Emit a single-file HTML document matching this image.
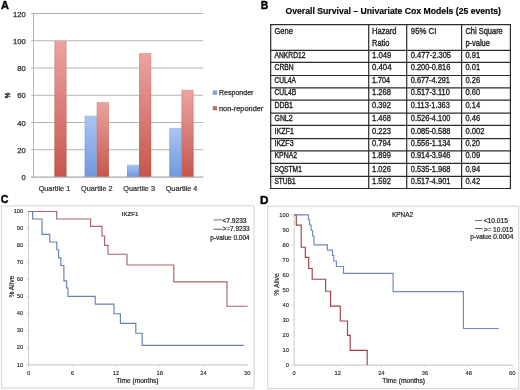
<!DOCTYPE html>
<html><head><meta charset="utf-8"><style>
html,body{margin:0;padding:0;background:#fff;}
body{width:520px;height:390px;overflow:hidden;}
svg{display:block;font-family:"Liberation Sans",sans-serif;will-change:transform;}
</style></head><body>
<svg width="520" height="390" viewBox="0 0 520 390">
<defs>
<linearGradient id="gr" x1="0" y1="0" x2="0" y2="1"><stop offset="0" stop-color="#eca4a0"/><stop offset="1" stop-color="#c6564c"/></linearGradient>
<linearGradient id="gb" x1="0" y1="0" x2="0" y2="1"><stop offset="0" stop-color="#a9c5f3"/><stop offset="1" stop-color="#6e99dd"/></linearGradient>
<linearGradient id="ge" x1="0" y1="0" x2="1" y2="0"><stop offset="0" stop-color="#000" stop-opacity="0.10"/><stop offset="0.12" stop-color="#000" stop-opacity="0"/><stop offset="0.88" stop-color="#000" stop-opacity="0"/><stop offset="1" stop-color="#000" stop-opacity="0.10"/></linearGradient>
</defs>
<rect width="520" height="390" fill="#fff"/>
<text transform="translate(1.04,9.00) scale(0.9713,1)" font-size="11.34" font-weight="bold" fill="#000" stroke="#000" stroke-width="0.35">A</text>
<line x1="31.2" y1="149.75" x2="203.3" y2="149.75" stroke="#b4b4b4" stroke-width="1"/>
<line x1="31.2" y1="122.5" x2="203.3" y2="122.5" stroke="#b4b4b4" stroke-width="1"/>
<line x1="31.2" y1="95.25" x2="203.3" y2="95.25" stroke="#b4b4b4" stroke-width="1"/>
<line x1="31.2" y1="68.0" x2="203.3" y2="68.0" stroke="#b4b4b4" stroke-width="1"/>
<line x1="31.2" y1="40.75" x2="203.3" y2="40.75" stroke="#b4b4b4" stroke-width="1"/>
<line x1="31.2" y1="13.5" x2="203.3" y2="13.5" stroke="#b4b4b4" stroke-width="1"/>
<text x="21.47" y="180.00" font-size="7.6" textLength="4.23" lengthAdjust="spacingAndGlyphs" fill="#2a2a2a" stroke="#2a2a2a" stroke-width="0.25">0</text>
<text x="17.25" y="152.75" font-size="7.6" textLength="8.45" lengthAdjust="spacingAndGlyphs" fill="#2a2a2a" stroke="#2a2a2a" stroke-width="0.25">20</text>
<text x="17.25" y="125.50" font-size="7.6" textLength="8.45" lengthAdjust="spacingAndGlyphs" fill="#2a2a2a" stroke="#2a2a2a" stroke-width="0.25">40</text>
<text x="17.25" y="98.25" font-size="7.6" textLength="8.45" lengthAdjust="spacingAndGlyphs" fill="#2a2a2a" stroke="#2a2a2a" stroke-width="0.25">60</text>
<text x="17.25" y="71.00" font-size="7.6" textLength="8.45" lengthAdjust="spacingAndGlyphs" fill="#2a2a2a" stroke="#2a2a2a" stroke-width="0.25">80</text>
<text x="13.02" y="43.75" font-size="7.6" textLength="12.68" lengthAdjust="spacingAndGlyphs" fill="#2a2a2a" stroke="#2a2a2a" stroke-width="0.25">100</text>
<text x="13.02" y="16.50" font-size="7.6" textLength="12.68" lengthAdjust="spacingAndGlyphs" fill="#2a2a2a" stroke="#2a2a2a" stroke-width="0.25">120</text>
<rect x="54.40" y="40.75" width="12.1" height="136.25" fill="url(#gr)"/>
<rect x="54.40" y="40.75" width="12.1" height="136.25" fill="url(#ge)"/>
<rect x="84.65" y="115.69" width="12.1" height="61.31" fill="url(#gb)"/>
<rect x="84.65" y="115.69" width="12.1" height="61.31" fill="url(#ge)"/>
<rect x="96.75" y="102.06" width="12.1" height="74.94" fill="url(#gr)"/>
<rect x="96.75" y="102.06" width="12.1" height="74.94" fill="url(#ge)"/>
<rect x="127.00" y="164.74" width="12.1" height="12.26" fill="url(#gb)"/>
<rect x="127.00" y="164.74" width="12.1" height="12.26" fill="url(#ge)"/>
<rect x="139.10" y="53.01" width="12.1" height="123.99" fill="url(#gr)"/>
<rect x="139.10" y="53.01" width="12.1" height="123.99" fill="url(#ge)"/>
<rect x="169.35" y="127.95" width="12.1" height="49.05" fill="url(#gb)"/>
<rect x="169.35" y="127.95" width="12.1" height="49.05" fill="url(#ge)"/>
<rect x="181.45" y="89.80" width="12.1" height="87.20" fill="url(#gr)"/>
<rect x="181.45" y="89.80" width="12.1" height="87.20" fill="url(#ge)"/>
<line x1="33.5" y1="13.5" x2="33.5" y2="177.5" stroke="#b4b4b4" stroke-width="1"/>
<line x1="31.2" y1="177.1" x2="203.3" y2="177.1" stroke="#a8a8a8" stroke-width="1.1"/>
<text x="38.65" y="190.70" font-size="7.5" textLength="31.60" lengthAdjust="spacingAndGlyphs" fill="#2a2a2a" stroke="#2a2a2a" stroke-width="0.2">Quartile 1</text>
<text x="81.00" y="190.70" font-size="7.5" textLength="31.60" lengthAdjust="spacingAndGlyphs" fill="#2a2a2a" stroke="#2a2a2a" stroke-width="0.2">Quartile 2</text>
<text x="123.35" y="190.70" font-size="7.5" textLength="31.60" lengthAdjust="spacingAndGlyphs" fill="#2a2a2a" stroke="#2a2a2a" stroke-width="0.2">Quartile 3</text>
<text x="165.70" y="190.70" font-size="7.5" textLength="31.60" lengthAdjust="spacingAndGlyphs" fill="#2a2a2a" stroke="#2a2a2a" stroke-width="0.2">Quartile 4</text>
<text transform="translate(9.9,95.4) rotate(-90) scale(0.78,1)" font-size="8.0" text-anchor="middle" fill="#222" stroke="#222" stroke-width="0.4">%</text>
<rect x="212.7" y="90.4" width="4.3" height="4.4" fill="#8a9fd0"/>
<rect x="212.7" y="106.1" width="4.3" height="4.2" fill="#bf7373"/>
<text x="219.00" y="95.40" font-size="7.3" textLength="34.40" lengthAdjust="spacingAndGlyphs" fill="#2a2a2a" stroke="#2a2a2a" stroke-width="0.25">Responder</text>
<text x="219.00" y="111.20" font-size="7.3" textLength="44.30" lengthAdjust="spacingAndGlyphs" fill="#2a2a2a" stroke="#2a2a2a" stroke-width="0.25">non-reponder</text>
<text transform="translate(260.71,9.20) scale(0.9008,1)" font-size="11.63" font-weight="bold" fill="#000" stroke="#000" stroke-width="0.4">B</text>
<text x="285.50" y="13.60" font-size="9" font-weight="bold" textLength="215.50" lengthAdjust="spacingAndGlyphs" fill="#000" stroke="#000" stroke-width="0.15">Overall Survival – Univariate Cox Models (25 events)</text>
<line x1="270.09999999999997" y1="24.7" x2="511.0" y2="24.7" stroke="#2c2c2c" stroke-width="1.2"/>
<line x1="270.09999999999997" y1="50.35" x2="511.0" y2="50.35" stroke="#2c2c2c" stroke-width="1.2"/>
<line x1="270.09999999999997" y1="62.4" x2="511.0" y2="62.4" stroke="#2c2c2c" stroke-width="1.2"/>
<line x1="270.09999999999997" y1="75.5" x2="511.0" y2="75.5" stroke="#2c2c2c" stroke-width="1.2"/>
<line x1="270.09999999999997" y1="87.8" x2="511.0" y2="87.8" stroke="#2c2c2c" stroke-width="1.2"/>
<line x1="270.09999999999997" y1="100.2" x2="511.0" y2="100.2" stroke="#2c2c2c" stroke-width="1.2"/>
<line x1="270.09999999999997" y1="113.2" x2="511.0" y2="113.2" stroke="#2c2c2c" stroke-width="1.2"/>
<line x1="270.09999999999997" y1="125.4" x2="511.0" y2="125.4" stroke="#2c2c2c" stroke-width="1.2"/>
<line x1="270.09999999999997" y1="138.6" x2="511.0" y2="138.6" stroke="#2c2c2c" stroke-width="1.2"/>
<line x1="270.09999999999997" y1="150.9" x2="511.0" y2="150.9" stroke="#2c2c2c" stroke-width="1.2"/>
<line x1="270.09999999999997" y1="163.3" x2="511.0" y2="163.3" stroke="#2c2c2c" stroke-width="1.2"/>
<line x1="270.09999999999997" y1="176.3" x2="511.0" y2="176.3" stroke="#2c2c2c" stroke-width="1.2"/>
<line x1="270.09999999999997" y1="188.5" x2="511.0" y2="188.5" stroke="#2c2c2c" stroke-width="1.2"/>
<line x1="270.7" y1="24.7" x2="270.7" y2="188.5" stroke="#2c2c2c" stroke-width="1.2"/>
<line x1="368.7" y1="24.7" x2="368.7" y2="188.5" stroke="#2c2c2c" stroke-width="1.2"/>
<line x1="406.7" y1="24.7" x2="406.7" y2="188.5" stroke="#2c2c2c" stroke-width="1.2"/>
<line x1="461.6" y1="24.7" x2="461.6" y2="188.5" stroke="#2c2c2c" stroke-width="1.2"/>
<line x1="510.4" y1="24.7" x2="510.4" y2="188.5" stroke="#2c2c2c" stroke-width="1.2"/>
<text transform="translate(274.50,33.70) scale(0.836,1)" font-size="9" fill="#222" stroke="#222" stroke-width="0.359">Gene</text>
<text transform="translate(372.00,33.70) scale(0.841,1)" font-size="9" fill="#222" stroke="#222" stroke-width="0.357">Hazard</text>
<text transform="translate(372.00,46.30) scale(0.829,1)" font-size="9" fill="#222" stroke="#222" stroke-width="0.362">Ratio</text>
<text transform="translate(410.80,33.70) scale(0.867,1)" font-size="9" fill="#222" stroke="#222" stroke-width="0.346">95% CI</text>
<text transform="translate(465.40,33.70) scale(0.831,1)" font-size="9" fill="#222" stroke="#222" stroke-width="0.361">Chi Square</text>
<text transform="translate(465.40,46.30) scale(0.830,1)" font-size="9" fill="#222" stroke="#222" stroke-width="0.361">p-value</text>
<text transform="translate(274.50,57.90) scale(0.748,1)" font-size="9" fill="#222" stroke="#222" stroke-width="0.401">ANKRD12</text>
<text transform="translate(372.00,57.90) scale(0.855,1)" font-size="9" fill="#222" stroke="#222" stroke-width="0.351">1.049</text>
<text transform="translate(410.80,57.90) scale(0.839,1)" font-size="9" fill="#222" stroke="#222" stroke-width="0.358">0.477-2.305</text>
<text transform="translate(465.40,57.90) scale(0.840,1)" font-size="9" fill="#222" stroke="#222" stroke-width="0.357">0.91</text>
<text transform="translate(274.50,70.40) scale(0.753,1)" font-size="9" fill="#222" stroke="#222" stroke-width="0.398">CRBN</text>
<text transform="translate(372.00,70.40) scale(0.867,1)" font-size="9" fill="#222" stroke="#222" stroke-width="0.346">0.404</text>
<text transform="translate(410.80,70.40) scale(0.824,1)" font-size="9" fill="#222" stroke="#222" stroke-width="0.364">0.200-0.816</text>
<text transform="translate(465.40,70.40) scale(0.840,1)" font-size="9" fill="#222" stroke="#222" stroke-width="0.357">0.01</text>
<text transform="translate(274.50,83.00) scale(0.736,1)" font-size="9" fill="#222" stroke="#222" stroke-width="0.408">CUL4A</text>
<text transform="translate(372.00,83.00) scale(0.800,1)" font-size="9" fill="#222" stroke="#222" stroke-width="0.375">1.704</text>
<text transform="translate(410.80,83.00) scale(0.815,1)" font-size="9" fill="#222" stroke="#222" stroke-width="0.368">0.677-4.291</text>
<text transform="translate(465.40,83.00) scale(0.840,1)" font-size="9" fill="#222" stroke="#222" stroke-width="0.357">0.26</text>
<text transform="translate(274.50,95.40) scale(0.747,1)" font-size="9" fill="#222" stroke="#222" stroke-width="0.402">CUL4B</text>
<text transform="translate(372.00,95.40) scale(0.840,1)" font-size="9" fill="#222" stroke="#222" stroke-width="0.357">1.268</text>
<text transform="translate(410.80,95.40) scale(0.825,1)" font-size="9" fill="#222" stroke="#222" stroke-width="0.364">0.517-3.110</text>
<text transform="translate(465.40,95.40) scale(0.840,1)" font-size="9" fill="#222" stroke="#222" stroke-width="0.357">0.60</text>
<text transform="translate(274.50,108.20) scale(0.771,1)" font-size="9" fill="#222" stroke="#222" stroke-width="0.389">DDB1</text>
<text transform="translate(372.00,108.20) scale(0.840,1)" font-size="9" fill="#222" stroke="#222" stroke-width="0.357">0.392</text>
<text transform="translate(410.80,108.20) scale(0.825,1)" font-size="9" fill="#222" stroke="#222" stroke-width="0.364">0.113-1.363</text>
<text transform="translate(465.40,108.20) scale(0.840,1)" font-size="9" fill="#222" stroke="#222" stroke-width="0.357">0.14</text>
<text transform="translate(274.50,120.80) scale(0.770,1)" font-size="9" fill="#222" stroke="#222" stroke-width="0.390">GNL2</text>
<text transform="translate(372.00,120.80) scale(0.840,1)" font-size="9" fill="#222" stroke="#222" stroke-width="0.357">1.468</text>
<text transform="translate(410.80,120.80) scale(0.825,1)" font-size="9" fill="#222" stroke="#222" stroke-width="0.364">0.526-4.100</text>
<text transform="translate(465.40,120.80) scale(0.840,1)" font-size="9" fill="#222" stroke="#222" stroke-width="0.357">0.46</text>
<text transform="translate(274.50,134.40) scale(0.790,1)" font-size="9" fill="#222" stroke="#222" stroke-width="0.380">IKZF1</text>
<text transform="translate(372.00,134.40) scale(0.840,1)" font-size="9" fill="#222" stroke="#222" stroke-width="0.357">0.223</text>
<text transform="translate(410.80,134.40) scale(0.825,1)" font-size="9" fill="#222" stroke="#222" stroke-width="0.364">0.085-0.588</text>
<text transform="translate(465.40,134.40) scale(0.852,1)" font-size="9" fill="#222" stroke="#222" stroke-width="0.352">0.002</text>
<text transform="translate(274.50,146.00) scale(0.777,1)" font-size="9" fill="#222" stroke="#222" stroke-width="0.386">IKZF3</text>
<text transform="translate(372.00,146.00) scale(0.840,1)" font-size="9" fill="#222" stroke="#222" stroke-width="0.357">0.794</text>
<text transform="translate(410.80,146.00) scale(0.825,1)" font-size="9" fill="#222" stroke="#222" stroke-width="0.364">0.556-1.134</text>
<text transform="translate(465.40,146.00) scale(0.832,1)" font-size="9" fill="#222" stroke="#222" stroke-width="0.361">0.20</text>
<text transform="translate(274.50,158.30) scale(0.766,1)" font-size="9" fill="#222" stroke="#222" stroke-width="0.392">KPNA2</text>
<text transform="translate(372.00,158.30) scale(0.840,1)" font-size="9" fill="#222" stroke="#222" stroke-width="0.357">1.899</text>
<text transform="translate(410.80,158.30) scale(0.825,1)" font-size="9" fill="#222" stroke="#222" stroke-width="0.364">0.914-3.946</text>
<text transform="translate(465.40,158.30) scale(0.840,1)" font-size="9" fill="#222" stroke="#222" stroke-width="0.357">0.09</text>
<text transform="translate(274.50,171.50) scale(0.741,1)" font-size="9" fill="#222" stroke="#222" stroke-width="0.405">SQSTM1</text>
<text transform="translate(372.00,171.50) scale(0.840,1)" font-size="9" fill="#222" stroke="#222" stroke-width="0.357">1.026</text>
<text transform="translate(410.80,171.50) scale(0.825,1)" font-size="9" fill="#222" stroke="#222" stroke-width="0.364">0.535-1.968</text>
<text transform="translate(465.40,171.50) scale(0.840,1)" font-size="9" fill="#222" stroke="#222" stroke-width="0.357">0.94</text>
<text transform="translate(274.50,183.70) scale(0.728,1)" font-size="9" fill="#222" stroke="#222" stroke-width="0.412">STUB1</text>
<text transform="translate(372.00,183.70) scale(0.840,1)" font-size="9" fill="#222" stroke="#222" stroke-width="0.357">1.592</text>
<text transform="translate(410.80,183.70) scale(0.825,1)" font-size="9" fill="#222" stroke="#222" stroke-width="0.364">0.517-4.901</text>
<text transform="translate(465.40,183.70) scale(0.840,1)" font-size="9" fill="#222" stroke="#222" stroke-width="0.357">0.42</text>
<rect x="1.5" y="205.8" width="252.5" height="182.2" fill="none" stroke="#dadada" stroke-width="1.2"/>
<text transform="translate(0.86,203.19) scale(0.9472,1)" font-size="11.30" font-weight="bold" fill="#000" stroke="#000" stroke-width="0.4">C</text>
<line x1="28.5" y1="211.5" x2="28.5" y2="364.8" stroke="#cbcbcb" stroke-width="1"/>
<line x1="28.5" y1="364.8" x2="247.2" y2="364.8" stroke="#cbcbcb" stroke-width="1.3"/>
<line x1="26.5" y1="364.8" x2="28.5" y2="364.8" stroke="#cbcbcb" stroke-width="0.8"/>
<text x="16.87" y="366.50" font-size="5.9" textLength="6.43" lengthAdjust="spacingAndGlyphs" fill="#222" stroke="#222" stroke-width="0.12">10</text>
<line x1="26.5" y1="347.77" x2="28.5" y2="347.77" stroke="#cbcbcb" stroke-width="0.8"/>
<text x="16.87" y="349.47" font-size="5.9" textLength="6.43" lengthAdjust="spacingAndGlyphs" fill="#222" stroke="#222" stroke-width="0.12">20</text>
<line x1="26.5" y1="330.73" x2="28.5" y2="330.73" stroke="#cbcbcb" stroke-width="0.8"/>
<text x="16.87" y="332.43" font-size="5.9" textLength="6.43" lengthAdjust="spacingAndGlyphs" fill="#222" stroke="#222" stroke-width="0.12">30</text>
<line x1="26.5" y1="313.7" x2="28.5" y2="313.7" stroke="#cbcbcb" stroke-width="0.8"/>
<text x="16.87" y="315.40" font-size="5.9" textLength="6.43" lengthAdjust="spacingAndGlyphs" fill="#222" stroke="#222" stroke-width="0.12">40</text>
<line x1="26.5" y1="296.67" x2="28.5" y2="296.67" stroke="#cbcbcb" stroke-width="0.8"/>
<text x="16.87" y="298.37" font-size="5.9" textLength="6.43" lengthAdjust="spacingAndGlyphs" fill="#222" stroke="#222" stroke-width="0.12">50</text>
<line x1="26.5" y1="279.63" x2="28.5" y2="279.63" stroke="#cbcbcb" stroke-width="0.8"/>
<text x="16.87" y="281.33" font-size="5.9" textLength="6.43" lengthAdjust="spacingAndGlyphs" fill="#222" stroke="#222" stroke-width="0.12">60</text>
<line x1="26.5" y1="262.6" x2="28.5" y2="262.6" stroke="#cbcbcb" stroke-width="0.8"/>
<text x="16.87" y="264.30" font-size="5.9" textLength="6.43" lengthAdjust="spacingAndGlyphs" fill="#222" stroke="#222" stroke-width="0.12">70</text>
<line x1="26.5" y1="245.57" x2="28.5" y2="245.57" stroke="#cbcbcb" stroke-width="0.8"/>
<text x="16.87" y="247.27" font-size="5.9" textLength="6.43" lengthAdjust="spacingAndGlyphs" fill="#222" stroke="#222" stroke-width="0.12">80</text>
<line x1="26.5" y1="228.53" x2="28.5" y2="228.53" stroke="#cbcbcb" stroke-width="0.8"/>
<text x="16.87" y="230.23" font-size="5.9" textLength="6.43" lengthAdjust="spacingAndGlyphs" fill="#222" stroke="#222" stroke-width="0.12">90</text>
<line x1="26.5" y1="211.5" x2="28.5" y2="211.5" stroke="#cbcbcb" stroke-width="0.8"/>
<text x="13.65" y="213.20" font-size="5.9" textLength="9.65" lengthAdjust="spacingAndGlyphs" fill="#222" stroke="#222" stroke-width="0.12">100</text>
<line x1="28.5" y1="364.8" x2="28.5" y2="366.8" stroke="#cbcbcb" stroke-width="0.8"/>
<text x="26.89" y="374.70" font-size="5.9" textLength="3.22" lengthAdjust="spacingAndGlyphs" fill="#222" stroke="#222" stroke-width="0.12">0</text>
<line x1="72.24" y1="364.8" x2="72.24" y2="366.8" stroke="#cbcbcb" stroke-width="0.8"/>
<text x="70.63" y="374.70" font-size="5.9" textLength="3.22" lengthAdjust="spacingAndGlyphs" fill="#222" stroke="#222" stroke-width="0.12">6</text>
<line x1="115.98" y1="364.8" x2="115.98" y2="366.8" stroke="#cbcbcb" stroke-width="0.8"/>
<text x="112.76" y="374.70" font-size="5.9" textLength="6.43" lengthAdjust="spacingAndGlyphs" fill="#222" stroke="#222" stroke-width="0.12">12</text>
<line x1="159.72" y1="364.8" x2="159.72" y2="366.8" stroke="#cbcbcb" stroke-width="0.8"/>
<text x="156.50" y="374.70" font-size="5.9" textLength="6.43" lengthAdjust="spacingAndGlyphs" fill="#222" stroke="#222" stroke-width="0.12">18</text>
<line x1="203.46" y1="364.8" x2="203.46" y2="366.8" stroke="#cbcbcb" stroke-width="0.8"/>
<text x="200.24" y="374.70" font-size="5.9" textLength="6.43" lengthAdjust="spacingAndGlyphs" fill="#222" stroke="#222" stroke-width="0.12">24</text>
<line x1="247.2" y1="364.8" x2="247.2" y2="366.8" stroke="#cbcbcb" stroke-width="0.8"/>
<text x="243.98" y="374.70" font-size="5.9" textLength="6.43" lengthAdjust="spacingAndGlyphs" fill="#222" stroke="#222" stroke-width="0.12">30</text>
<text x="116.20" y="382.60" font-size="6.6" textLength="42.40" lengthAdjust="spacingAndGlyphs" fill="#222" stroke="#222" stroke-width="0.2">Time (months)</text>
<text transform="translate(13.8,286.7) rotate(-90)" font-size="6.6" text-anchor="middle" fill="#222" stroke="#222" stroke-width="0.15" textLength="21.8" lengthAdjust="spacingAndGlyphs">% Alive</text>
<text x="121.75" y="216.00" font-size="6.1" textLength="16.50" lengthAdjust="spacingAndGlyphs" fill="#222" stroke="#222" stroke-width="0.2">IKZF1</text>
<path d="M28.50,211.50 L56.70,211.50 L56.70,219.00 L90.60,219.00 L90.60,226.30 L102.00,226.30 L102.00,236.00 L104.60,236.00 L104.60,245.40 L108.00,245.40 L108.00,254.20 L127.00,254.20 L127.00,265.00 L173.80,265.00 L173.80,281.80 L227.00,281.80 L227.00,306.20 L247.60,306.20" fill="none" stroke="#a8646c" stroke-width="1.15" stroke-linejoin="miter"/>
<path d="M28.50,211.50 L32.60,211.50 L32.60,219.00 L42.00,219.00 L42.00,234.30 L49.70,234.30 L49.70,242.00 L56.80,242.00 L56.80,249.70 L58.60,249.70 L58.60,257.90 L60.80,257.90 L60.80,265.50 L63.90,265.50 L63.90,280.80 L66.60,280.80 L66.60,288.00 L68.00,288.00 L68.00,296.40 L95.20,296.40 L95.20,304.10 L114.00,304.10 L114.00,313.70 L120.40,313.70 L120.40,323.30 L135.80,323.30 L135.80,333.20 L142.20,333.20 L142.20,345.30 L243.70,345.30" fill="none" stroke="#6680b4" stroke-width="1.15" stroke-linejoin="miter"/>
<line x1="213.5" y1="219.9" x2="222.3" y2="219.9" stroke="#6a7088" stroke-width="1.0"/>
<line x1="213.5" y1="229.3" x2="222.3" y2="229.3" stroke="#7a5058" stroke-width="1.0"/>
<text x="222.40" y="222.50" font-size="6.4" textLength="24.10" lengthAdjust="spacingAndGlyphs" fill="#222" stroke="#222" stroke-width="0.2">&lt;7.9233</text>
<text x="222.50" y="231.40" font-size="6.4" textLength="27.20" lengthAdjust="spacingAndGlyphs" fill="#222" stroke="#222" stroke-width="0.2">&gt;=7.9233</text>
<text x="210.30" y="239.50" font-size="6.4" textLength="39.40" lengthAdjust="spacingAndGlyphs" fill="#222" stroke="#222" stroke-width="0.2">p-value 0.004</text>
<rect x="267.6" y="206.2" width="251.1" height="182.4" fill="none" stroke="#dadada" stroke-width="1.2"/>
<text transform="translate(260.03,203.90) scale(1.0196,1)" font-size="11.48" font-weight="bold" fill="#000" stroke="#000" stroke-width="0.4">D</text>
<line x1="294.2" y1="214.7" x2="294.2" y2="365.1" stroke="#cbcbcb" stroke-width="1"/>
<line x1="294.2" y1="365.1" x2="512.3" y2="365.1" stroke="#cbcbcb" stroke-width="1.3"/>
<line x1="292.2" y1="365.1" x2="294.2" y2="365.1" stroke="#cbcbcb" stroke-width="0.8"/>
<text x="285.68" y="367.00" font-size="5.9" textLength="3.22" lengthAdjust="spacingAndGlyphs" fill="#222" stroke="#222" stroke-width="0.12">0</text>
<line x1="292.2" y1="350.06" x2="294.2" y2="350.06" stroke="#cbcbcb" stroke-width="0.8"/>
<text x="282.47" y="351.96" font-size="5.9" textLength="6.43" lengthAdjust="spacingAndGlyphs" fill="#222" stroke="#222" stroke-width="0.12">10</text>
<line x1="292.2" y1="335.02" x2="294.2" y2="335.02" stroke="#cbcbcb" stroke-width="0.8"/>
<text x="282.47" y="336.92" font-size="5.9" textLength="6.43" lengthAdjust="spacingAndGlyphs" fill="#222" stroke="#222" stroke-width="0.12">20</text>
<line x1="292.2" y1="319.98" x2="294.2" y2="319.98" stroke="#cbcbcb" stroke-width="0.8"/>
<text x="282.47" y="321.88" font-size="5.9" textLength="6.43" lengthAdjust="spacingAndGlyphs" fill="#222" stroke="#222" stroke-width="0.12">30</text>
<line x1="292.2" y1="304.94" x2="294.2" y2="304.94" stroke="#cbcbcb" stroke-width="0.8"/>
<text x="282.47" y="306.84" font-size="5.9" textLength="6.43" lengthAdjust="spacingAndGlyphs" fill="#222" stroke="#222" stroke-width="0.12">40</text>
<line x1="292.2" y1="289.9" x2="294.2" y2="289.9" stroke="#cbcbcb" stroke-width="0.8"/>
<text x="282.47" y="291.80" font-size="5.9" textLength="6.43" lengthAdjust="spacingAndGlyphs" fill="#222" stroke="#222" stroke-width="0.12">50</text>
<line x1="292.2" y1="274.86" x2="294.2" y2="274.86" stroke="#cbcbcb" stroke-width="0.8"/>
<text x="282.47" y="276.76" font-size="5.9" textLength="6.43" lengthAdjust="spacingAndGlyphs" fill="#222" stroke="#222" stroke-width="0.12">60</text>
<line x1="292.2" y1="259.82" x2="294.2" y2="259.82" stroke="#cbcbcb" stroke-width="0.8"/>
<text x="282.47" y="261.72" font-size="5.9" textLength="6.43" lengthAdjust="spacingAndGlyphs" fill="#222" stroke="#222" stroke-width="0.12">70</text>
<line x1="292.2" y1="244.78" x2="294.2" y2="244.78" stroke="#cbcbcb" stroke-width="0.8"/>
<text x="282.47" y="246.68" font-size="5.9" textLength="6.43" lengthAdjust="spacingAndGlyphs" fill="#222" stroke="#222" stroke-width="0.12">80</text>
<line x1="292.2" y1="229.74" x2="294.2" y2="229.74" stroke="#cbcbcb" stroke-width="0.8"/>
<text x="282.47" y="231.64" font-size="5.9" textLength="6.43" lengthAdjust="spacingAndGlyphs" fill="#222" stroke="#222" stroke-width="0.12">90</text>
<line x1="292.2" y1="214.7" x2="294.2" y2="214.7" stroke="#cbcbcb" stroke-width="0.8"/>
<text x="279.25" y="216.60" font-size="5.9" textLength="9.65" lengthAdjust="spacingAndGlyphs" fill="#222" stroke="#222" stroke-width="0.12">100</text>
<line x1="294.2" y1="365.1" x2="294.2" y2="367.1" stroke="#cbcbcb" stroke-width="0.8"/>
<text x="292.59" y="374.80" font-size="5.9" textLength="3.22" lengthAdjust="spacingAndGlyphs" fill="#222" stroke="#222" stroke-width="0.12">0</text>
<line x1="337.82" y1="365.1" x2="337.82" y2="367.1" stroke="#cbcbcb" stroke-width="0.8"/>
<text x="334.60" y="374.80" font-size="5.9" textLength="6.43" lengthAdjust="spacingAndGlyphs" fill="#222" stroke="#222" stroke-width="0.12">12</text>
<line x1="381.44" y1="365.1" x2="381.44" y2="367.1" stroke="#cbcbcb" stroke-width="0.8"/>
<text x="378.22" y="374.80" font-size="5.9" textLength="6.43" lengthAdjust="spacingAndGlyphs" fill="#222" stroke="#222" stroke-width="0.12">24</text>
<line x1="425.06" y1="365.1" x2="425.06" y2="367.1" stroke="#cbcbcb" stroke-width="0.8"/>
<text x="421.84" y="374.80" font-size="5.9" textLength="6.43" lengthAdjust="spacingAndGlyphs" fill="#222" stroke="#222" stroke-width="0.12">36</text>
<line x1="468.68" y1="365.1" x2="468.68" y2="367.1" stroke="#cbcbcb" stroke-width="0.8"/>
<text x="465.46" y="374.80" font-size="5.9" textLength="6.43" lengthAdjust="spacingAndGlyphs" fill="#222" stroke="#222" stroke-width="0.12">48</text>
<line x1="512.3" y1="365.1" x2="512.3" y2="367.1" stroke="#cbcbcb" stroke-width="0.8"/>
<text x="509.08" y="374.80" font-size="5.9" textLength="6.43" lengthAdjust="spacingAndGlyphs" fill="#222" stroke="#222" stroke-width="0.12">60</text>
<text x="382.30" y="383.40" font-size="6.6" textLength="42.80" lengthAdjust="spacingAndGlyphs" fill="#222" stroke="#222" stroke-width="0.2">Time (months)</text>
<text transform="translate(279.1,284.4) rotate(-90)" font-size="6.9" text-anchor="middle" fill="#222" stroke="#222" stroke-width="0.15" textLength="22.6" lengthAdjust="spacingAndGlyphs">% Alive</text>
<text x="392.00" y="217.00" font-size="6.3" textLength="21.10" lengthAdjust="spacingAndGlyphs" fill="#222" stroke="#222" stroke-width="0.2">KPNA2</text>
<path d="M294.20,214.80 L296.30,214.80 L296.30,225.10 L301.20,225.10 L301.20,247.20 L305.30,247.20 L305.30,257.30 L308.70,257.30 L308.70,268.50 L312.20,268.50 L312.20,279.20 L325.60,279.20 L325.60,291.20 L330.60,291.20 L330.60,306.10 L340.30,306.10 L340.30,321.00 L347.50,321.00 L347.50,335.40 L350.20,335.40 L350.20,350.40 L367.20,350.40 L367.20,365.00" fill="none" stroke="#a04048" stroke-width="1.15" stroke-linejoin="miter"/>
<path d="M294.20,214.80 L308.40,214.80 L308.40,219.60 L309.60,219.60 L309.60,225.00 L311.10,225.00 L311.10,230.50 L312.60,230.50 L312.60,236.00 L313.90,236.00 L313.90,244.80 L327.40,244.80 L327.40,250.10 L332.50,250.10 L332.50,255.40 L333.80,255.40 L333.80,261.00 L336.40,261.00 L336.40,266.50 L343.50,266.50 L343.50,273.40 L393.10,273.40 L393.10,291.60 L463.40,291.60 L463.40,328.50 L499.00,328.50" fill="none" stroke="#7088be" stroke-width="1.15" stroke-linejoin="miter"/>
<line x1="475.0" y1="220.6" x2="482.5" y2="220.6" stroke="#6a7088" stroke-width="1.0"/>
<line x1="475.0" y1="228.5" x2="482.5" y2="228.5" stroke="#7a5058" stroke-width="1.0"/>
<text x="483.70" y="222.70" font-size="6.4" textLength="24.20" lengthAdjust="spacingAndGlyphs" fill="#222" stroke="#222" stroke-width="0.2">&lt;10.015</text>
<text x="483.70" y="231.90" font-size="6.4" textLength="29.40" lengthAdjust="spacingAndGlyphs" fill="#222" stroke="#222" stroke-width="0.2">&gt;= 10.015</text>
<text x="470.20" y="239.10" font-size="6.4" textLength="43.10" lengthAdjust="spacingAndGlyphs" fill="#222" stroke="#222" stroke-width="0.2">p-value 0.0004</text>
</svg>
</body></html>
